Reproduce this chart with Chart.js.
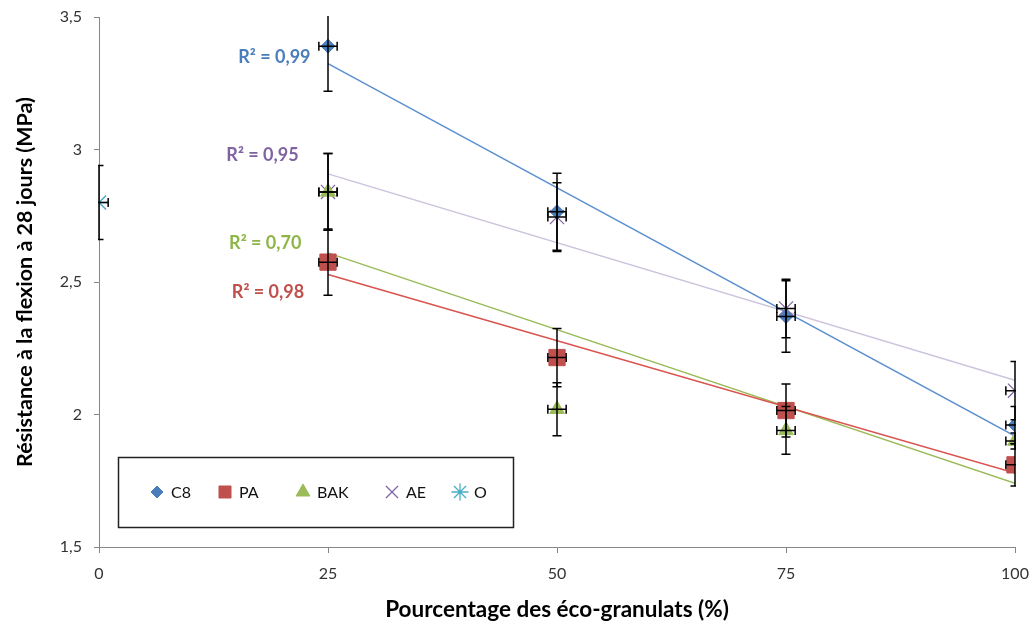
<!DOCTYPE html>
<html>
<head>
<meta charset="utf-8">
<script src="https://cdn.jsdelivr.net/npm/chart.js@4.4.0/dist/chart.umd.min.js"></script>
<style>
html,body{margin:0;padding:0;background:#fff;}
#wrap{width:1033px;height:626px;}
</style>
</head>
<body>
<div id="wrap"><canvas id="c" width="1033" height="626"></canvas></div>
<script>
// ---- data ----
const xPct = [25, 50, 75, 100];
const seriesNames = ['C8', 'PA', 'BAK', 'AE', 'O'];
const C8  = [3.39, 2.765, 2.37, 1.96];
const PA  = [2.575, 2.215, 2.015, 1.81];
const BAK = [2.84, 2.02, 1.94, 1.90];
const AE  = [2.84, 2.745, 2.40, 2.09];
const xO  = [0];
const O   = [2.80];
const errC8  = [0.17, 0.145, 0.135, 0.07];
const errPA  = [0.125, 0.11, 0.10, 0.08];
const errBAK = [0.145, 0.10, 0.09, 0.03];
const errAE  = [0.145, 0.13, 0.11, 0.11];
const errO   = [0.14];
const errX   = 1;
const r2Labels = ['R² = 0,99', 'R² = 0,98', 'R² = 0,70', 'R² = 0,95'];
const yTicks = [1.5, 2, 2.5, 3, 3.5];
const xTicks = [0, 25, 50, 75, 100];

// ---- styles ----
const FONT = 'Lato, "Open Sans", sans-serif';
const markerCol = ['#4a7ebb', '#c0504d', '#9bbb59', '#8064a2', '#4bacc6'];
const trendCol  = ['#5b8fd0', '#d9534f', '#9bbb59', '#cdc2dd'];
const labelCol  = ['#4a7ebb', '#c0504d', '#8db646', '#8064a2'];
const styles = ['rectRot', 'rect', 'triangle', 'crossRot', 'star'];
const radii  = [7, 11.5, 8.5, 10, 10];
const legendRadii = [6, 8.5, 8, 8.5, 8.5];
const labelAnchor = [[15.2, 3.349], [14.5, 2.462], [14.2, 2.647], [13.9, 2.979]]; // data coords (left, middle)

const pts = (xs, ys) => xs.map((x, i) => ({x: x, y: ys[i]}));
function fit(xs, ys) {
  const n = xs.length;
  const mx = xs.reduce((a, b) => a + b, 0) / n;
  const my = ys.reduce((a, b) => a + b, 0) / n;
  let sxy = 0, sxx = 0;
  for (let i = 0; i < n; i++) { sxy += (xs[i] - mx) * (ys[i] - my); sxx += (xs[i] - mx) ** 2; }
  const b = sxy / sxx, a = my - b * mx;
  const x0 = xs[0], x1 = xs[n - 1];
  return [{x: x0, y: a + b * x0}, {x: x1, y: a + b * x1}];
}

const main = [C8, PA, BAK, AE];
const errs = [errC8, errPA, errBAK, errAE, errO];
const datasets = [];
main.forEach((ys, k) => {
  datasets.push({
    label: seriesNames[k], data: pts(xPct, ys), errY: errs[k], isMain: true,
    pointStyle: styles[k], pointRadius: radii[k], pointHoverRadius: radii[k],
    backgroundColor: markerCol[k], borderColor: markerCol[k],
    pointBorderWidth: (k === 3 ? 1.2 : 1), showLine: false, order: 1
  });
});
datasets.push({
  label: 'O', data: pts(xO, O), errY: errO, isMain: true,
  pointStyle: styles[4], pointRadius: radii[4], pointHoverRadius: radii[4],
  backgroundColor: markerCol[4], borderColor: markerCol[4], pointBorderWidth: 1.5,
  showLine: false, order: 1
});
main.forEach((ys, k) => {
  datasets.push({
    label: 'trend ' + seriesNames[k], data: fit(xPct, ys), showLine: true,
    borderColor: trendCol[k], borderWidth: 1.5, pointRadius: 0, fill: false, order: 5
  });
});

const errorBars = {
  id: 'errorBars',
  afterDatasetsDraw(chart) {
    const {ctx, chartArea: ca, scales: {x, y}} = chart;
    ctx.save();
    ctx.beginPath();
    ctx.rect(ca.left - 1, ca.top - 1, ca.right - ca.left + 2, ca.bottom - ca.top + 2);
    ctx.clip();
    ctx.strokeStyle = '#000';
    ctx.lineWidth = 1.5;
    chart.data.datasets.forEach(ds => {
      if (!ds.errY) return;
      ds.data.forEach((p, i) => {
        const e = ds.errY[i];
        const px = x.getPixelForValue(p.x), py = y.getPixelForValue(p.y);
        const yt = y.getPixelForValue(p.y + e), yb = y.getPixelForValue(p.y - e);
        const xl = x.getPixelForValue(p.x - errX), xr = x.getPixelForValue(p.x + errX);
        const c = 4.5;
        ctx.beginPath();
        ctx.moveTo(px, yt); ctx.lineTo(px, yb);
        ctx.moveTo(px - c, yt); ctx.lineTo(px + c, yt);
        ctx.moveTo(px - c, yb); ctx.lineTo(px + c, yb);
        ctx.moveTo(xl, py); ctx.lineTo(xr, py);
        ctx.moveTo(xl, py - c); ctx.lineTo(xl, py + c);
        ctx.moveTo(xr, py - c); ctx.lineTo(xr, py + c);
        ctx.stroke();
      });
    });
    ctx.restore();
  }
};

const extras = {
  id: 'extras',
  afterDraw(chart) {
    const {ctx, scales: {x, y}} = chart;
    ctx.save();
    // R² labels
    ctx.font = 'bold 18px ' + FONT;
    ctx.textBaseline = 'middle';
    ctx.textAlign = 'left';
    r2Labels.forEach((t, k) => {
      ctx.fillStyle = labelCol[k];
      ctx.fillText(t, x.getPixelForValue(labelAnchor[k][0]), y.getPixelForValue(labelAnchor[k][1]));
    });
    // legend box
    ctx.strokeStyle = '#222';
    ctx.lineWidth = 1.5;
    ctx.strokeRect(118.5, 457.5, 395, 70);
    const lx = [157, 225, 303, 392, 460];
    const ly = 492;
    ctx.font = '16px ' + FONT;
    seriesNames.forEach((n, k) => {
      ctx.fillStyle = markerCol[k];
      ctx.strokeStyle = markerCol[k];
      ctx.lineWidth = (k >= 3) ? 1.3 : 1;
      Chart.helpers.drawPoint(ctx, {pointStyle: styles[k], radius: legendRadii[k], rotation: 0, borderWidth: ctx.lineWidth}, lx[k], ly);
      ctx.fillStyle = '#111';
      ctx.fillText(n, lx[k] + 14, ly + 1);
    });
    ctx.restore();
  }
};

const fmt = v => String(v).replace('.', ',');

new Chart(document.getElementById('c'), {
  type: 'scatter',
  data: {datasets: datasets},
  options: {
    responsive: false,
    animation: false,
    layout: {padding: {top: 17, right: 18, left: 0, bottom: 0}},
    plugins: {legend: {display: false}, tooltip: {enabled: false}},
    scales: {
      x: {
        type: 'linear', min: 0, max: 100,
        afterBuildTicks: s => { s.ticks = xTicks.map(v => ({value: v})); },
        afterFit: s => { s.height = 79; s.paddingLeft = 0; s.paddingRight = 0; },
        ticks: {color: '#333', font: {size: 16, family: FONT}, padding: 11, callback: fmt},
        grid: {drawOnChartArea: false, drawTicks: true, tickLength: 6, color: '#868686'},
        border: {color: '#868686', width: 1},
        title: {display: true, text: 'Pourcentage des éco-granulats (%)', color: '#000',
                font: {size: 22.5, weight: 'bold', family: FONT}, padding: {top: 0, bottom: 3}}
      },
      y: {
        type: 'linear', min: 1.5, max: 3.5,
        afterBuildTicks: s => { s.ticks = yTicks.map(v => ({value: v})); },
        afterFit: s => { s.width = 99; s.paddingTop = 0; s.paddingBottom = 0; },
        ticks: {color: '#333', font: {size: 16, family: FONT}, padding: 12, callback: fmt},
        grid: {drawOnChartArea: false, drawTicks: true, tickLength: 5, color: '#868686'},
        border: {color: '#868686', width: 1},
        title: {display: true, text: 'Résistance à la flexion à 28 jours (MPa)', color: '#000',
                font: {size: 21.5, weight: 'bold', family: FONT}, padding: {top: 12, bottom: 0}}
      }
    }
  },
  plugins: [errorBars, extras]
});
</script>
</body>
</html>
